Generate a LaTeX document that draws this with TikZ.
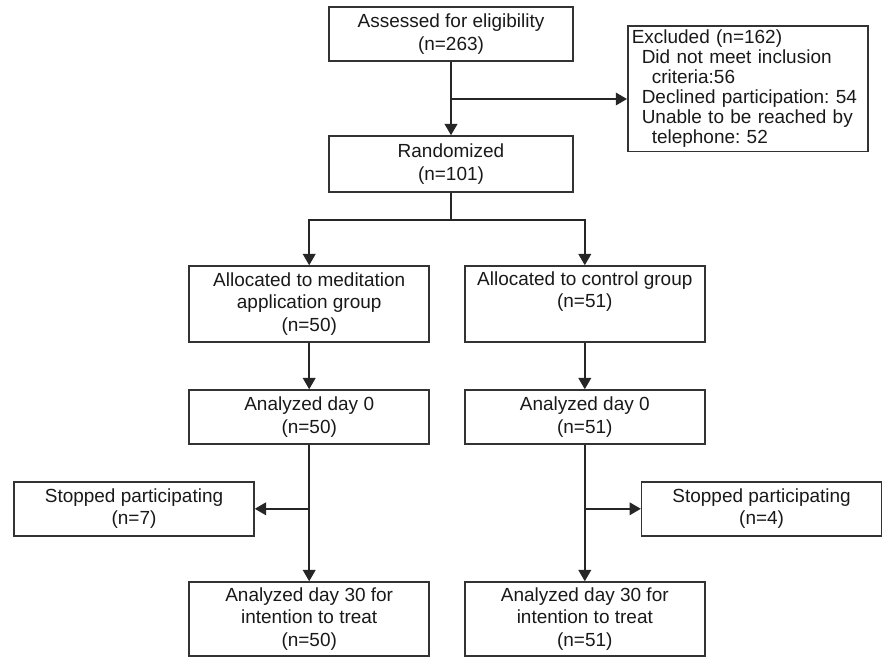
\documentclass[tikz,border=0pt]{standalone}
\usepackage{fontspec}
\setmainfont{Liberation Sans}
\frenchspacing
\usetikzlibrary{arrows.meta,positioning}

\begin{document}
\begin{tikzpicture}[        caixa/.style={rectangle,draw=black!80,line width=1.1pt,align=center,minimum width=6cm,minimum height=1.35cm,inner sep=2pt,text=black!90,font=\fontsize{13.5}{15.8}\selectfont},      caixaalta/.style={caixa,minimum height=1.9cm},        seta/.style={-{Triangle[width=9pt,length=8pt]},line width=1.1pt,draw=black!85},       linha/.style={line width=1.1pt,draw=black!85}  ]
    \useasboundingbox (0,0) rectangle (22.05,-16.425);
    % topo
    \node[caixa,minimum width=6.1cm] (avaliados) at (11.275,-0.85) {Assessed for eligibility\\(n=263)};
    \node[caixa,minimum width=6.1cm,minimum height=1.4cm] (random) at (11.275,-4.1) {Randomized\\(n=101)};
    \node[caixa,anchor=north west,align=left,text width=5.8cm,inner sep=0.1cm,minimum height=3.025cm,font=\fontsize{13.5}{14.2}\selectfont] (excluidos) at (15.675,-0.625) {Excluded (n=162)\\
        \hspace*{0.25cm}Did not meet inclusion\\
        \hspace*{0.5cm}criteria:56\\
        \hspace*{0.25cm}Declined participation: 54\\
        \hspace*{0.25cm}Unable to be reached by\\
        \hspace*{0.5cm}telephone: 52};
    % grupos
    \node[caixaalta] (alocL) at (7.73,-7.6) {Allocated to meditation\\application group\\(n=50)};
    \node[caixaalta] (alocR) at (14.62,-7.6) {Allocated to control group\\(n=51)\\\strut};
    \node[caixa] (dia0L) at (7.73,-10.425) {Analyzed day 0\\(n=50)};
    \node[caixa] (dia0R) at (14.62,-10.425) {Analyzed day 0\\(n=51)};
    \node[caixa] (pararL) at (3.35,-12.72) {Stopped participating\\(n=7)};
    \node[caixa] (pararR) at (19.04,-12.72) {Stopped participating\\(n=4)};
    \node[caixa,minimum height=1.85cm] (dia30L) at (7.73,-15.475) {Analyzed day 30 for\\intention to treat\\(n=50)};
    \node[caixa,minimum height=1.85cm] (dia30R) at (14.62,-15.475) {Analyzed day 30 for\\intention to treat\\(n=51)};
    % setas
    \draw[seta] (avaliados) -- (random);
    \coordinate (ramo1) at (avaliados.south |- 0,-2.475);
    \draw[seta] (ramo1) -- (ramo1 -| excluidos.west);
    \draw[linha] (random.south) -- ++(0,-0.675) coordinate (ramo2);
    \draw[seta] (ramo2) -| (alocL);
    \draw[seta] (ramo2) -| (alocR);
    \draw[seta] (alocL) -- (dia0L);
    \draw[seta] (alocR) -- (dia0R);
    \draw[seta] (dia0L) -- (dia30L);
    \draw[seta] (dia0R) -- (dia30R);
    \coordinate (ramo3) at (dia0L.south |- pararL);
    \coordinate (ramo4) at (dia0R.south |- pararR);
    \draw[seta] (ramo3) -- (pararL);
    \draw[seta] (ramo4) -- (pararR);
\end{tikzpicture}
\end{document}
